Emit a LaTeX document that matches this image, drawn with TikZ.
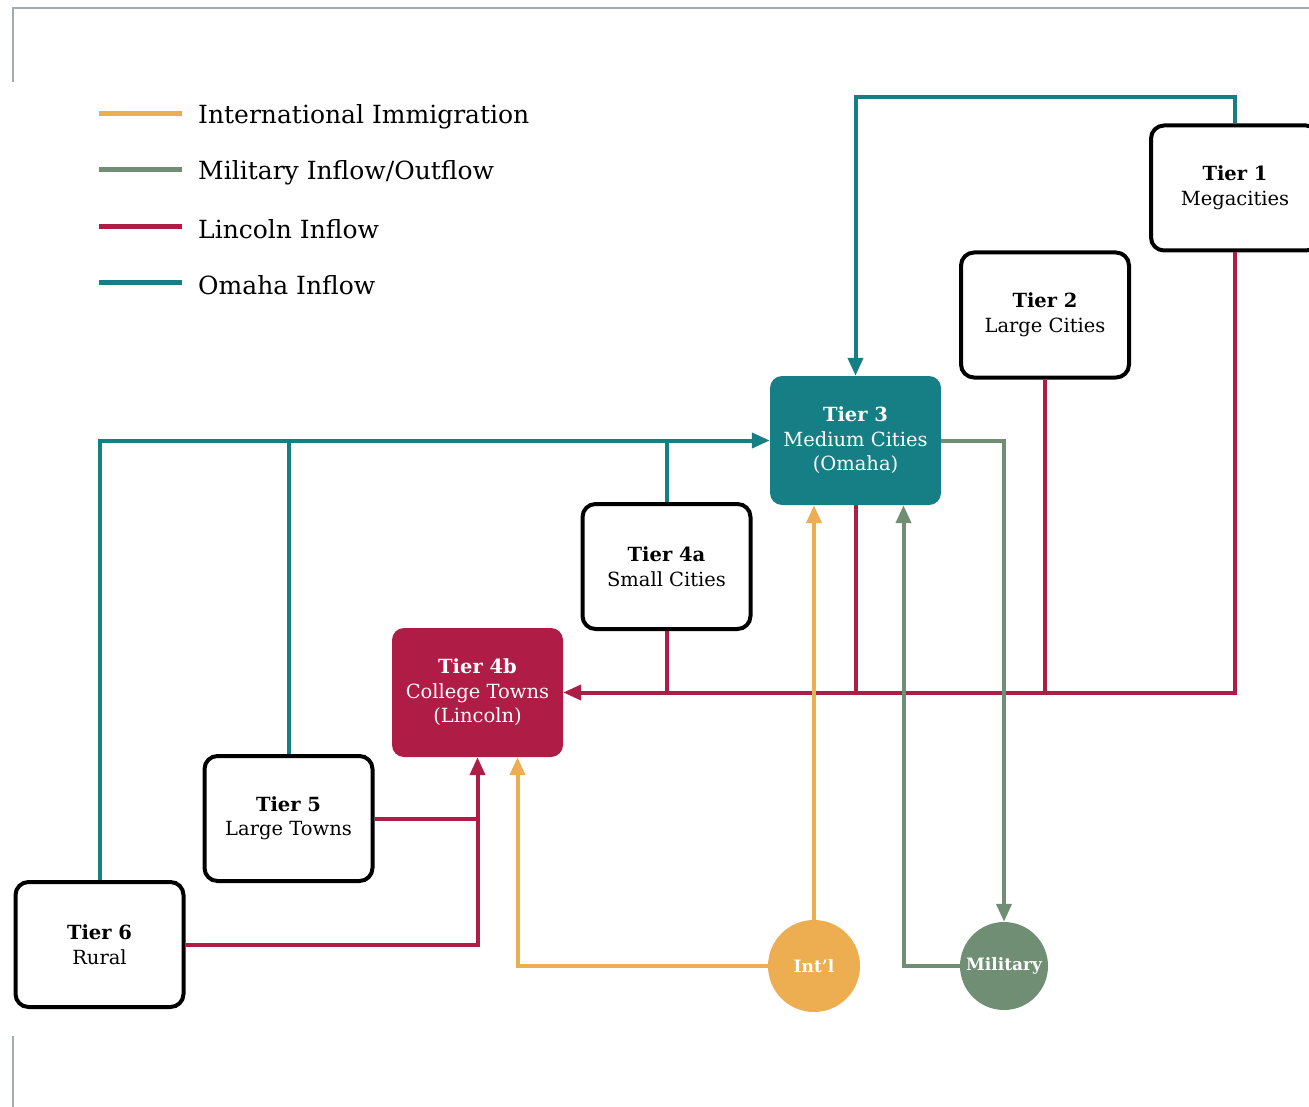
\documentclass[tikz,border=0pt]{standalone}
\usepackage{fontspec}
\setmainfont{DejaVu Serif}
\usetikzlibrary{arrows.meta}

\definecolor{omahaC}{HTML}{167F86}
\definecolor{lincolnC}{HTML}{AF1C45}
\definecolor{intlC}{HTML}{ECAE50}
\definecolor{milC}{HTML}{6F8E73}
\definecolor{frameC}{HTML}{A2ACB2}

\tikzset{
  tierbox/.style={draw=black, line width=4pt, rounded corners=13pt, fill=white,
    minimum width=168pt, minimum height=125pt, align=center, inner sep=0pt,
    font=\fontsize{19.5}{24.5}\selectfont},
  hubbox/.style={fill=#1, text=white, rounded corners=12pt,
    minimum width=171pt, minimum height=129pt, align=center, inner sep=0pt,
    font=\fontsize{19.5}{24.5}\selectfont},
  srccircle/.style={circle, fill=#1, text=white, inner sep=0pt,
    font=\bfseries\fontsize{17}{20}\selectfont},
  flow/.style={line width=4pt, draw=#1},
  tip/.style={-{Triangle[length=18pt,width=15pt]}},
  keyline/.style={line width=5pt, draw=#1},
  keytext/.style={anchor=west, inner sep=0pt, yshift=-2.5pt,
    font=\fontsize{25}{30}\selectfont},
}

\begin{document}
\begin{tikzpicture}[x=1pt,y=-1pt]
\useasboundingbox (0,0) rectangle (1309,1107);
\clip (0,0) rectangle (1309,1107);

% frame fragments
\draw[frameC, line width=2pt] (13,82) -- (13,8) -- (1309,8);
\draw[frameC, line width=2pt] (13,1036) -- (13,1107);

% key
\draw[keyline=intlC] (99,114) -- (182,114);
\node[keytext] (k1) at (198,114) {International Immigration};
\draw[keyline=milC] (99,170) -- (182,170);
\node[keytext] (k2) at (198,170) {Military Inflow/Outflow};
\draw[keyline=lincolnC] (99,227) -- (182,227);
\node[keytext] (k3) at (198,227) {Lincoln Inflow};
\draw[keyline=omahaC] (99,283) -- (182,283);
\node[keytext] (k4) at (198,283) {Omaha Inflow};

% tiers
\node[tierbox] (t1) at (1235,188) {\textbf{Tier 1}\\Megacities};
\node[tierbox] (t2) at (1045,315) {\textbf{Tier 2}\\Large Cities};
\node[hubbox=omahaC] (t3) at (855.5,440.5) {\textbf{Tier 3}\\Medium Cities\\(Omaha)};
\node[tierbox] (t4a) at (666.5,566.5) {\textbf{Tier 4a}\\Small Cities};
\node[hubbox=lincolnC] (t4b) at (477.5,692.5) {\textbf{Tier 4b}\\College Towns\\(Lincoln)};
\node[tierbox] (t5) at (288.5,818.5) {\textbf{Tier 5}\\Large Towns};
\node[tierbox] (t6) at (99.5,944.5) {\textbf{Tier 6}\\Rural};

% sources
\node[srccircle=intlC, minimum size=92pt] (intl) at (814,966) {Int’l};
\node[srccircle=milC, minimum size=88pt] (mil) at (1004,966) {Military};

% Omaha inflow
\draw[flow=omahaC, tip] (t1.north) |- (t3.north |- 0,97) -- (t3.north);
\draw[flow=omahaC, tip] (t6.north) |- (t3.west);
\draw[flow=omahaC] (t5.north) -- (t5.north |- t3.west);
\draw[flow=omahaC] (t4a.north) -- (t4a.north |- t3.west);

% Lincoln inflow
\draw[flow=lincolnC, tip] (t1.south) |- (t4b.east);
\draw[flow=lincolnC] (t2.south) -- (t2.south |- t4b.east);
\draw[flow=lincolnC] (t3.south) -- (t3.south |- t4b.east);
\draw[flow=lincolnC] (t4a.south) -- (t4a.south |- t4b.east);
\draw[flow=lincolnC, tip] (t6.east) -| (t4b.south);
\draw[flow=lincolnC] (t5.east) -- (t5.east -| t4b.south);

% international immigration
\draw[flow=intlC, tip] (intl.north) -- (intl.north |- t3.south);
\draw[flow=intlC, tip] (intl.west) -| ([xshift=40pt]t4b.south);

% military
\draw[flow=milC, tip] (t3.east) -| (mil.north);
\draw[flow=milC, tip] (mil.west) -| ([xshift=48pt]t3.south);
\end{tikzpicture}
\end{document}
